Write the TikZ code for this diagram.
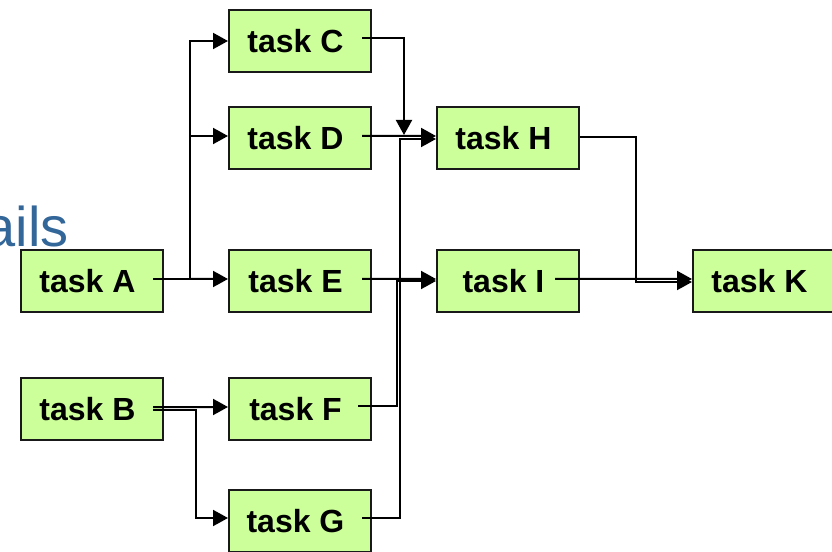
\documentclass[tikz,border=0pt]{standalone}
\usepackage{fontspec}
\setmainfont{Liberation Sans}
\usetikzlibrary{arrows.meta}
\definecolor{boxgreen}{HTML}{CCFF99}
\definecolor{titleblue}{HTML}{336699}
\begin{document}
\begin{tikzpicture}[x=1bp,y=-1bp,
  task/.style={draw=black!90, line width=2bp, fill=boxgreen, minimum width=142bp, minimum height=62bp, inner sep=0pt, font=\fontsize{32bp}{36bp}\selectfont\bfseries, execute at begin node={\hspace*{-9bp}}},
  link/.style={line width=2bp, -{Triangle[length=15bp,width=16bp]}},
  wire/.style={line width=2bp}]
\useasboundingbox (0,0) rectangle (832,552);
\clip (0,0) rectangle (832,552);
\node[anchor=base east, text=titleblue, font=\fontsize{56bp}{60bp}\selectfont, inner sep=0pt] (title) at (69,247) {ails};
\node[task] (A) at (92,281) {task A};
\node[task] (B) at (92,409) {task B};
\node[task] (C) at (300,41) {task C};
\node[task] (D) at (300,138) {task D};
\node[task] (E) at (300,281) {task E};
\node[task] (F) at (300,409) {task F};
\node[task] (G) at (300,521) {task G};
\node[task] (H) at (508,138) {task H};
\node[task] (I) at (508,281) {task I};
\node[task] (K) at (764,281) {task K};
% junction coordinates
\coordinate (aout) at (153,279);
\coordinate (asplit) at (190,279);
\coordinate (bout) at (153,407);
\coordinate (bsplit) at (196,410);
\coordinate (cout) at (362,38);
\coordinate (hjoin) at (404,135);
\coordinate (dout) at (362,136);
\coordinate (eout) at (362,279);
\coordinate (fout) at (358,406);
\coordinate (fturn) at (397,281);
\coordinate (gout) at (362,518);
\coordinate (gturn) at (400,139);
\coordinate (hturn) at (636,282);
\coordinate (iout) at (555,279);
% A to C, D, E
\draw[wire] (aout) -- (asplit);
\draw[link] (asplit) |- (C.west);
\draw[link] (asplit) |- ([yshift=2bp]D.west);
\draw[link] (asplit) -- ([yshift=2bp]E.west);
% B to F, G
\draw[link] (bout) -- ([yshift=2bp]F.west);
\draw[link] (bout |- bsplit) -- (bsplit) |- ([yshift=3bp]G.west);
% C, D, G to H
\draw[link] (cout) -| (hjoin);
\draw[link] (dout) -- ([yshift=2bp]H.west);
\draw[link] (gout) -| (gturn) -- ([yshift=-1bp]H.west);
% E, F to I
\draw[link] (eout) -- ([yshift=2bp]I.west);
\draw[link] (fout) -| (fturn) -- ([yshift=0bp]I.west);
% H, I to K
\draw[link] ([yshift=1bp]H.east) -| (hturn) -- ([yshift=-1bp]K.west);
\draw[link] (iout) -- ([yshift=2bp]K.west);
\end{tikzpicture}
\end{document}
